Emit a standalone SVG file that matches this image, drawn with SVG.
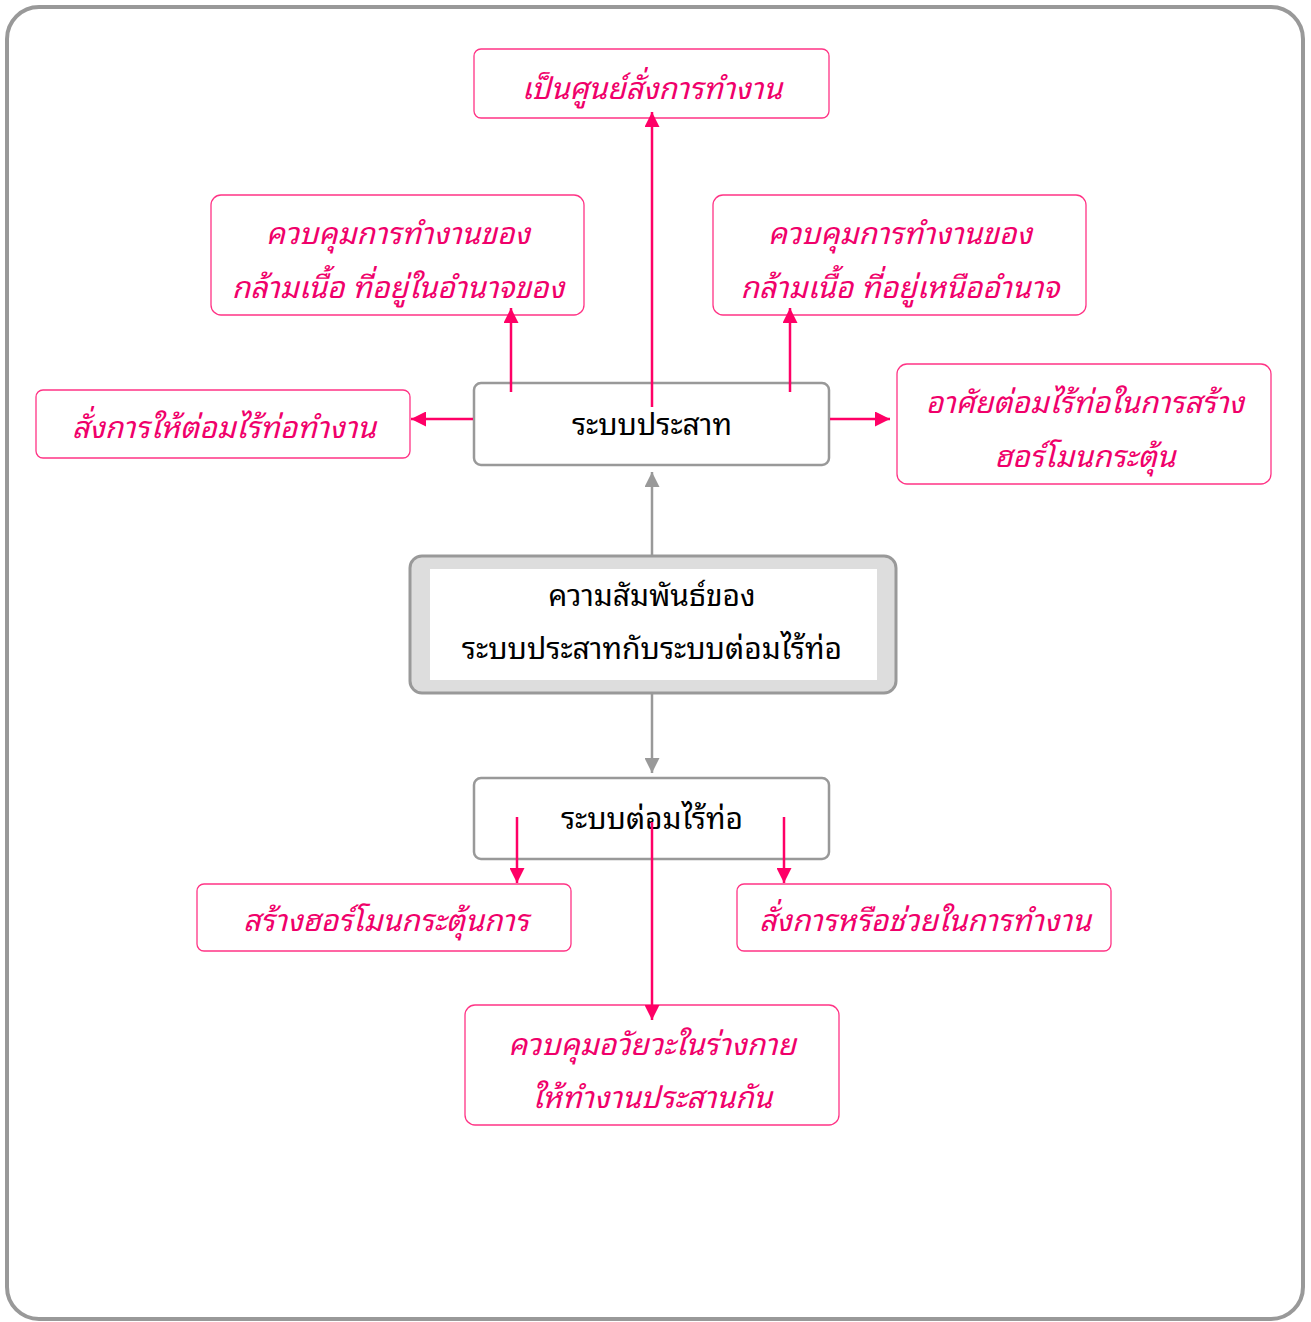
<svg xmlns="http://www.w3.org/2000/svg" width="1311" height="1322" viewBox="0 0 1311 1322">
<defs>
<style>
.pb{fill:#fff;stroke:#ff3385;stroke-width:1.3}
.gb{fill:#fff;stroke:#999;stroke-width:2.5}
.pt{font-family:"Noto Sans Thai Looped","Loma","Garuda","Norasi","Noto Sans",sans-serif;font-size:30px;font-style:italic;fill:#f0006a;text-anchor:middle}
.bt{font-family:"Noto Sans Thai Looped","Loma","Garuda","Norasi","Noto Sans",sans-serif;font-size:30px;fill:#000;text-anchor:middle}
.pl{stroke:#ff0066;stroke-width:2.5;fill:none}
.gl{stroke:#999;stroke-width:2.5;fill:none}
</style>
<marker id="ap" viewBox="0 0 10 10" refX="10" refY="5" markerWidth="6" markerHeight="6" markerUnits="strokeWidth" orient="auto"><path d="M0,0L10,5L0,10z" fill="#ff0066"/></marker>
<marker id="ag" viewBox="0 0 10 10" refX="10" refY="5" markerWidth="6" markerHeight="6" markerUnits="strokeWidth" orient="auto"><path d="M0,0L10,5L0,10z" fill="#999"/></marker>
</defs>
<rect x="7" y="7" width="1296" height="1312" rx="32" fill="#fff" stroke="#999" stroke-width="4"/>

<g id="n-main">
<rect x="410" y="556" width="486" height="137" rx="12" fill="#ddd" stroke="#999" stroke-width="3"/>
<rect x="430" y="569" width="447" height="111" fill="#fff"/>
<text class="bt" x="652" y="606">ความสัมพันธ์ของ</text>
<text class="bt" x="652" y="659">ระบบประสาทกับระบบต่อมไร้ท่อ</text>
</g>
<g id="n-nerve">
<rect class="gb" x="474" y="383" width="355" height="82" rx="7"/>
<text class="bt" x="652" y="435">ระบบประสาท</text>
</g>
<g id="n-endo">
<rect class="gb" x="474" y="778" width="355" height="81" rx="7"/>
<text class="bt" x="652" y="829">ระบบต่อมไร้ท่อ</text>
</g>
<g id="n-top">
<rect class="pb" x="474" y="49" width="355" height="69" rx="7"/>
<text class="pt" x="652" y="99">เป็นศูนย์สั่งการทำงาน</text>
</g>
<g id="n-ul">
<rect class="pb" x="211" y="195" width="373" height="120" rx="10"/>
<text class="pt" x="398" y="244">ควบคุมการทำงานของ</text>
<text class="pt" x="398" y="298">กล้ามเนื้อ ที่อยู่ในอำนาจของ</text>
</g>
<g id="n-ur">
<rect class="pb" x="713" y="195" width="373" height="120" rx="10"/>
<text class="pt" x="900" y="244">ควบคุมการทำงานของ</text>
<text class="pt" x="900" y="298">กล้ามเนื้อ ที่อยู่เหนืออำนาจ</text>
</g>
<g id="n-left">
<rect class="pb" x="36" y="390" width="374" height="68" rx="7"/>
<text class="pt" x="224" y="438">สั่งการให้ต่อมไร้ท่อทำงาน</text>
</g>
<g id="n-right">
<rect class="pb" x="897" y="364" width="374" height="120" rx="10"/>
<text class="pt" x="1085" y="413">อาศัยต่อมไร้ท่อในการสร้าง</text>
<text class="pt" x="1085" y="467">ฮอร์โมนกระตุ้น</text>
</g>
<g id="n-bl">
<rect class="pb" x="197" y="884" width="374" height="67" rx="7"/>
<text class="pt" x="386" y="931">สร้างฮอร์โมนกระตุ้นการ</text>
</g>
<g id="n-br">
<rect class="pb" x="737" y="884" width="374" height="67" rx="7"/>
<text class="pt" x="925" y="931">สั่งการหรือช่วยในการทำงาน</text>
</g>
<g id="n-bottom">
<rect class="pb" x="465" y="1005" width="374" height="120" rx="10"/>
<text class="pt" x="652" y="1055">ควบคุมอวัยวะในร่างกาย</text>
<text class="pt" x="652" y="1108">ให้ทำงานประสานกัน</text>
</g>

<g id="connectors">
<line class="gl" x1="652" y1="555" x2="652" y2="472" marker-end="url(#ag)"/>
<line class="gl" x1="652" y1="694" x2="652" y2="773" marker-end="url(#ag)"/>
<line class="pl" x1="652" y1="407" x2="652" y2="112" marker-end="url(#ap)"/>
<line class="pl" x1="511" y1="392" x2="511" y2="308" marker-end="url(#ap)"/>
<line class="pl" x1="790" y1="392" x2="790" y2="308" marker-end="url(#ap)"/>
<line class="pl" x1="473" y1="419" x2="411" y2="419" marker-end="url(#ap)"/>
<line class="pl" x1="830" y1="419" x2="890" y2="419" marker-end="url(#ap)"/>
<line class="pl" x1="517" y1="817" x2="517" y2="883" marker-end="url(#ap)"/>
<line class="pl" x1="784" y1="817" x2="784" y2="883" marker-end="url(#ap)"/>
<line class="pl" x1="652" y1="822" x2="652" y2="1020" marker-end="url(#ap)"/>
</g>
</svg>
